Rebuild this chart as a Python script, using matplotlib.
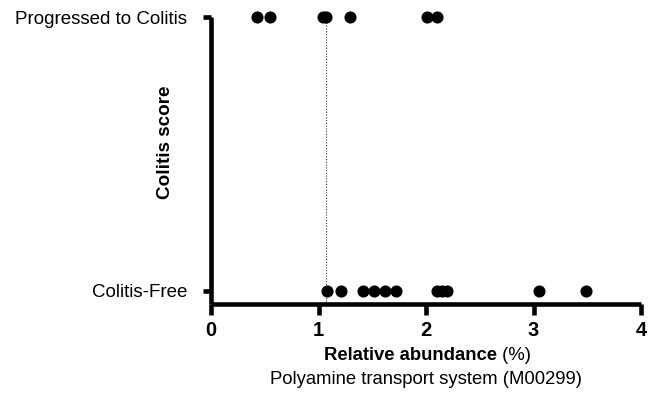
import matplotlib
matplotlib.use("Agg")
import matplotlib.pyplot as plt

plt.rcParams['font.family'] = ['Liberation Sans', 'DejaVu Sans']

categories = ["Colitis-Free", "Progressed to Colitis"]
colitis_free = [1.076, 1.206, 1.417, 1.516, 1.619, 1.721, 2.105, 2.146, 2.193, 3.05, 3.49]
progressed = [0.43, 0.55, 1.04, 1.07, 1.29, 2.01, 2.10]
threshold = 1.07
xticks = [0, 1, 2, 3, 4]

fig = plt.figure(figsize=(6.5, 4.08), dpi=100)
ax = fig.add_axes([211/650, 104/408, 430/650, 286.7/408])

ymin = -0.0475
ax.scatter(colitis_free, [0]*len(colitis_free), s=76, color='black', zorder=3, clip_on=False, linewidths=0)
ax.scatter(progressed, [1]*len(progressed), s=76, color='black', zorder=3, clip_on=False, linewidths=0)
ax.plot([threshold, threshold], [ymin, 0.99], color='#333333', lw=0.8, ls=(0, (1, 1.5)), zorder=2)

ax.set_xlim(0, 4)
ax.set_ylim(ymin, 1)
ax.set_xticks(xticks)
ax.set_xticklabels([str(t) for t in xticks], fontweight='bold', fontsize=14.5)
ax.set_yticks([0, 1])
ax.set_yticklabels(categories, fontsize=13.5)

for s in ['top', 'right']:
    ax.spines[s].set_visible(False)
for s in ['left', 'bottom']:
    ax.spines[s].set_linewidth(3.3)
    ax.spines[s].set_capstyle('butt')
ax.tick_params(axis='x', length=8, width=3.3, pad=4)
ax.tick_params(axis='y', length=6, width=3.3, pad=11)

fig.text(166/650, 1-142/408, "Colitis score", rotation=90, ha='center', va='center',
         fontweight='bold', fontsize=13.6)

# x label with mixed weights
fig.canvas.draw()
r = fig.canvas.get_renderer()
t1 = fig.text(0, 1-355/408, "Relative abundance", fontweight='bold', fontsize=13.3, ha='left', va='center')
t2 = fig.text(0, 1-355/408, " (%)", fontsize=13.3, ha='left', va='center')
w1 = t1.get_window_extent(r).width
w2 = t2.get_window_extent(r).width
cx = 428
x0 = cx - (w1 + w2) / 2
t1.set_x(x0/650)
t2.set_x((x0 + w1)/650)
fig.text(426/650, 1-379/408, "Polyamine transport system (M00299)", fontsize=13.3, ha='center', va='center')

fig.savefig("out.png", dpi=100)
